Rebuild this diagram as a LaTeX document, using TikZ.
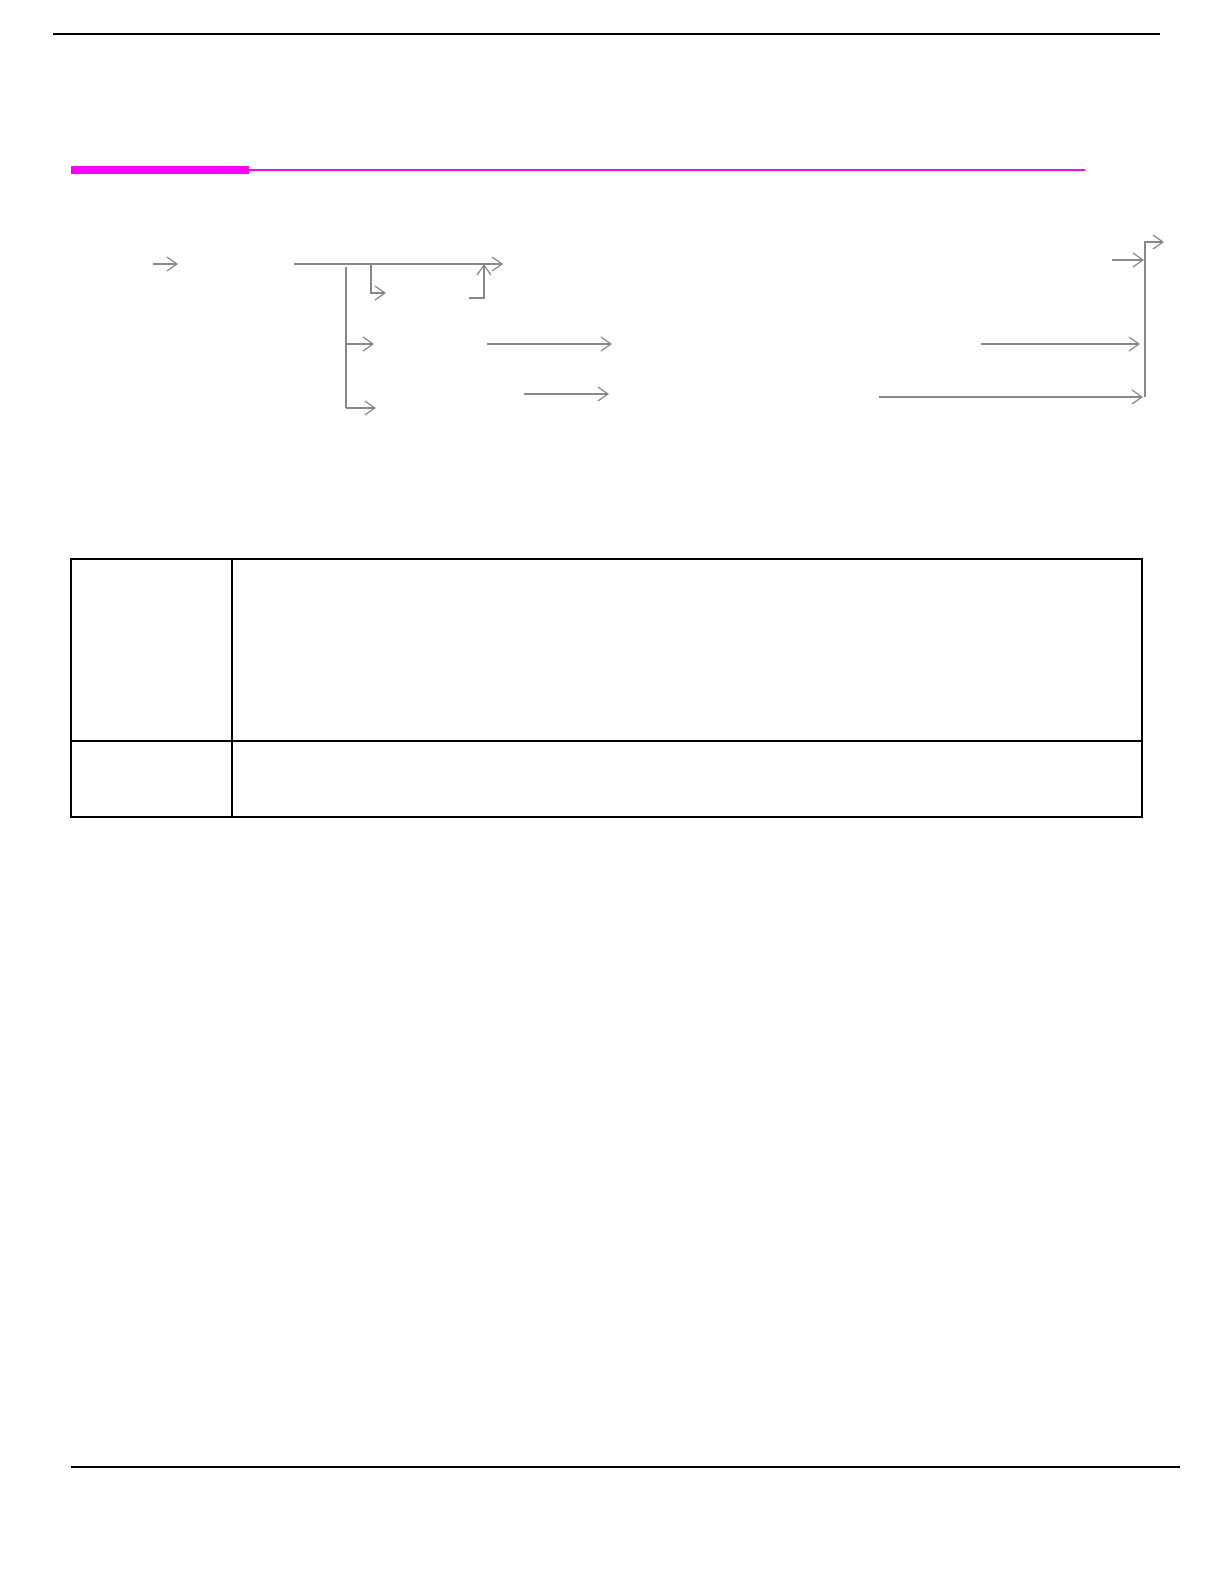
\documentclass[tikz,border=0pt]{standalone}
\usepackage{tikz}
\usetikzlibrary{arrows.meta}

\definecolor{headpink}{RGB}{255,0,255}
\definecolor{flowgray}{RGB}{136,136,136}

\tikzset{
  flow/.style={draw=flowgray, line width=0.6pt, -{Straight Barb[length=5pt,width=7pt]}},
  flowline/.style={draw=flowgray, line width=0.6pt},
  rule/.style={draw=black, line width=0.8pt},
}

\begin{document}
\begin{tikzpicture}[x=0.5pt,y=0.5pt,yscale=-1,xscale=1]
\useasboundingbox (0,0) rectangle (1224,1582);

% page rules
\draw [rule] (53,34) -- (1160,34);
\draw [rule] (71,1467) -- (1180,1467);

% magenta heading bar
\fill [headpink] (71,166) rectangle (249,174);
\draw [headpink, line width=1pt] (249,170) -- (1085,170);

% flow coordinates
\coordinate (inA) at (153,264);
\coordinate (inB) at (178,264);
\coordinate (mainL) at (294,264);
\coordinate (mainR) at (503,264);
\coordinate (brTop) at (371,264);
\coordinate (brBot) at (371,293);
\coordinate (brEnd) at (386,293);
\coordinate (upS) at (469,298);
\coordinate (upC) at (484,298);
\coordinate (upE) at (484,264);
\coordinate (trTop) at (346,267);
\coordinate (trMid) at (346,344);
\coordinate (trBot) at (346,408);
\coordinate (midE) at (374,344);
\coordinate (botE) at (376,408);
\coordinate (m1L) at (487,344);
\coordinate (m1R) at (612,344);
\coordinate (m2L) at (524,394);
\coordinate (m2R) at (609,394);
\coordinate (r0L) at (1112,260);
\coordinate (r0R) at (1144,260);
\coordinate (r1L) at (981,344);
\coordinate (r1R) at (1140,344);
\coordinate (r2L) at (879,397);
\coordinate (r2R) at (1143,397);
\coordinate (vBot) at (1145,397);
\coordinate (vTop) at (1145,242);
\coordinate (outE) at (1164,242);

% flow arrows
\draw [flow] (inA) -- (inB);
\draw [flow] (mainL) -- (mainR);
\draw [flow] (brTop) -- (brBot) -- (brEnd);
\draw [flow] (upS) -- (upC) -- (upE);
\draw [flowline] (trTop) -- (trBot);
\draw [flow] (trMid) -- (midE);
\draw [flow] (trBot) -- (botE);
\draw [flow] (m1L) -- (m1R);
\draw [flow] (m2L) -- (m2R);
\draw [flow] (r0L) -- (r0R);
\draw [flow] (r1L) -- (r1R);
\draw [flow] (r2L) -- (r2R);
\draw [flow] (vBot) -- (vTop) -- (outE);

% table
\draw [rule] (71,559) rectangle (1142,817);
\draw [rule] (232,559) -- (232,817);
\draw [rule] (71,741) -- (1142,741);

\end{tikzpicture}
\end{document}
